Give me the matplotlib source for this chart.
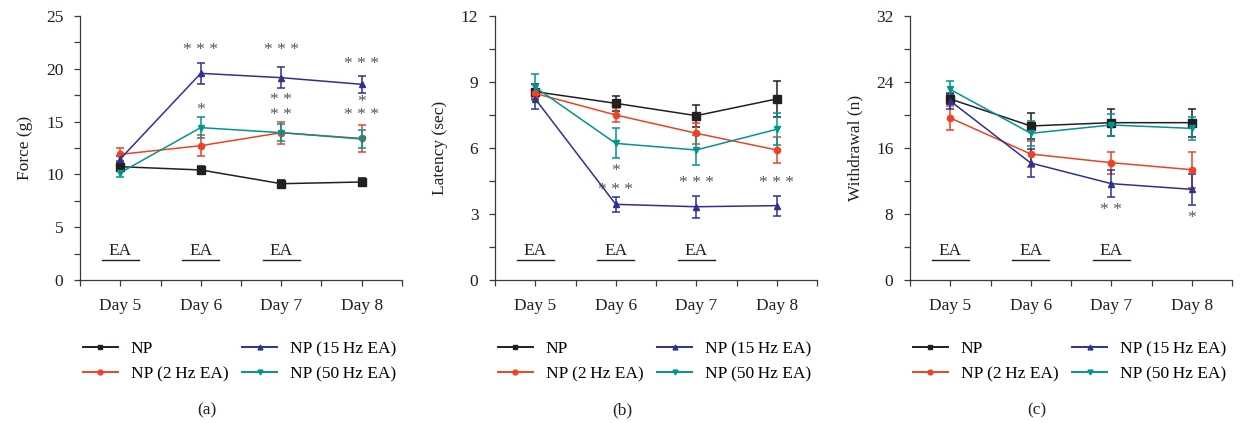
import matplotlib
matplotlib.use("Agg")
import matplotlib.pyplot as plt
from matplotlib.ticker import MultipleLocator

plt.rcParams['font.family'] = ['Liberation Serif', 'DejaVu Serif']

days = [5, 6, 7, 8]
day_labels = ["Day 5", "Day 6", "Day 7", "Day 8"]
series_names = ["NP", "NP (2\u2009Hz EA)", "NP (15\u2009Hz EA)", "NP (50\u2009Hz EA)"]
colors = ["#231f20", "#ef4123", "#2e3192", "#00958f"]
markers = ["s", "o", "^", "v"]

# Panel (a) Force (g)
force_np = [10.73, 10.42, 9.12, 9.28]
force_np_err = [0.3, 0.4, 0.35, 0.35]
force_2hz = [11.9, 12.72, 13.95, 13.4]
force_2hz_err = [0.6, 1.0, 1.05, 1.25]
force_15hz = [11.46, 19.57, 19.16, 18.53]
force_15hz_err = [0.3, 1.0, 1.0, 0.8]
force_50hz = [10.16, 14.43, 13.95, 13.35]
force_50hz_err = [0.4, 1.0, 0.8, 0.85]
force_stars = [(6, 21.8, "* * *"), (6, 16.1, "*"), (7, 21.8, "* * *"), (7, 17.0, "* *"),
               (7, 15.6, "* *"), (8, 20.5, "* * *"), (8, 16.9, "*"), (8, 15.6, "* * *")]

# Panel (b) Latency (sec)
lat_np = [8.56, 8.03, 7.47, 8.23]
lat_np_err = [0.35, 0.35, 0.5, 0.83]
lat_2hz = [8.48, 7.5, 6.67, 5.91]
lat_2hz_err = [0.2, 0.3, 0.48, 0.57]
lat_15hz = [8.23, 3.44, 3.33, 3.38]
lat_15hz_err = [0.45, 0.35, 0.5, 0.45]
lat_50hz = [8.76, 6.21, 5.91, 6.85]
lat_50hz_err = [0.6, 0.68, 0.68, 0.72]
lat_stars = [(6, 4.95, "*"), (6, 4.09, "* * *"), (7, 4.39, "* * *"), (8, 4.39, "* * *")]

# Panel (c) Withdrawal (n)
wd_np = [21.94, 18.67, 19.07, 19.07]
wd_np_err = [0.6, 1.6, 1.6, 1.7]
wd_2hz = [19.64, 15.27, 14.22, 13.37]
wd_2hz_err = [1.5, 1.6, 1.35, 2.2]
wd_15hz = [21.7, 14.18, 11.68, 10.99]
wd_15hz_err = [1.0, 1.65, 1.6, 1.85]
wd_50hz = [23.1, 17.78, 18.79, 18.38]
wd_50hz_err = [1.05, 1.5, 1.35, 1.35]
wd_stars = [(7, 8.48, "* *"), (8, 7.47, "*")]

ea_days = [5, 6, 7]

panels = [
    dict(ylabel="Force (g)", ymax=25, major=5, minor=2.5,
         vals=[force_np, force_2hz, force_15hz, force_50hz],
         errs=[force_np_err, force_2hz_err, force_15hz_err, force_50hz_err],
         stars=force_stars, cap="(a)", left=80, ylab_x=33, cap_x=207),
    dict(ylabel="Latency (sec)", ymax=12, major=3, minor=1.5,
         vals=[lat_np, lat_2hz, lat_15hz, lat_50hz],
         errs=[lat_np_err, lat_2hz_err, lat_15hz_err, lat_50hz_err],
         stars=lat_stars, cap="(b)", left=495, ylab_x=448, cap_x=622),
    dict(ylabel="Withdrawal (n)", ymax=32, major=8, minor=4,
         vals=[wd_np, wd_2hz, wd_15hz, wd_50hz],
         errs=[wd_np_err, wd_2hz_err, wd_15hz_err, wd_50hz_err],
         stars=wd_stars, cap="(c)", left=910, ylab_x=863, cap_x=1037),
]

W, H = 1241, 423
fig = plt.figure(figsize=(W / 100, H / 100), dpi=100)
axcol = "#3a3a3a"
starcol = "#555555"

for p in panels:
    ax = fig.add_axes([p["left"] / W, 1 - 280 / H, 322 / W, 264 / H])
    handles = []
    for v, e, c, m, n in zip(p["vals"], p["errs"], colors, markers, series_names):
        ax.errorbar(days, v, yerr=e, color=c, lw=1.1, elinewidth=1.1, capsize=2.6,
                    capthick=1.1, marker=m, markersize=5.5 if m == "s" else 4.5,
                    zorder=3)
        h, = ax.plot([], [], color=c, lw=1.4, marker=m, markersize=3.5, label=n)
        handles.append(h)
    ax.set_xlim(4.5, 8.5)
    ax.set_ylim(0, p["ymax"])
    ax.set_xticks(days)
    ax.set_xticks([4.5, 5.5, 6.5, 7.5, 8.5], minor=True)
    ax.set_xticklabels(day_labels, fontsize=12.5)
    ax.yaxis.set_major_locator(MultipleLocator(p["major"]))
    ax.yaxis.set_minor_locator(MultipleLocator(p["minor"]))
    ax.tick_params(axis="both", which="both", direction="out", color=axcol,
                   labelcolor="#231f20")
    ax.tick_params(axis="both", which="major", length=4, width=0.9, labelsize=12.5)
    ax.tick_params(axis="both", which="minor", length=4, width=0.9)
    ax.tick_params(axis="x", pad=9)
    ax.tick_params(axis="y", pad=8)
    for s in ["top", "right"]:
        ax.spines[s].set_visible(False)
    for s in ["left", "bottom"]:
        ax.spines[s].set_color(axcol)
        ax.spines[s].set_linewidth(0.9)
    ax.set_ylabel(p["ylabel"], fontsize=12.5, color="#231f20")
    ax.yaxis.set_label_coords((p["ylab_x"] - p["left"]) / 322, 0.5)

    ymax = p["ymax"]
    for d in ea_days:
        ax.text(d, ymax * 0.095, "EA", ha="center", va="baseline", fontsize=12.5,
                color="#231f20")
        ax.plot([d - 0.23, d + 0.23], [ymax * 0.076] * 2, color="#231f20", lw=1.0)
    for d, y, t in p["stars"]:
        ax.text(d, y, t, ha="center", va="center", fontsize=12.5, color=starcol)

    fig.legend(handles=handles, ncol=2, frameon=False, fontsize=12.5,
               loc="upper left",
               bbox_to_anchor=((p["left"] - 4) / W, 1 - 334 / H),
               handlelength=2.0, handletextpad=0.75, columnspacing=0.8,
               labelspacing=0.5, borderaxespad=0)
    fig.text(p["cap_x"] / W, 1 - 410 / H, p["cap"], ha="center", va="center",
             fontsize=12.5, color="#231f20")

fig.savefig("out.png", dpi=100)
